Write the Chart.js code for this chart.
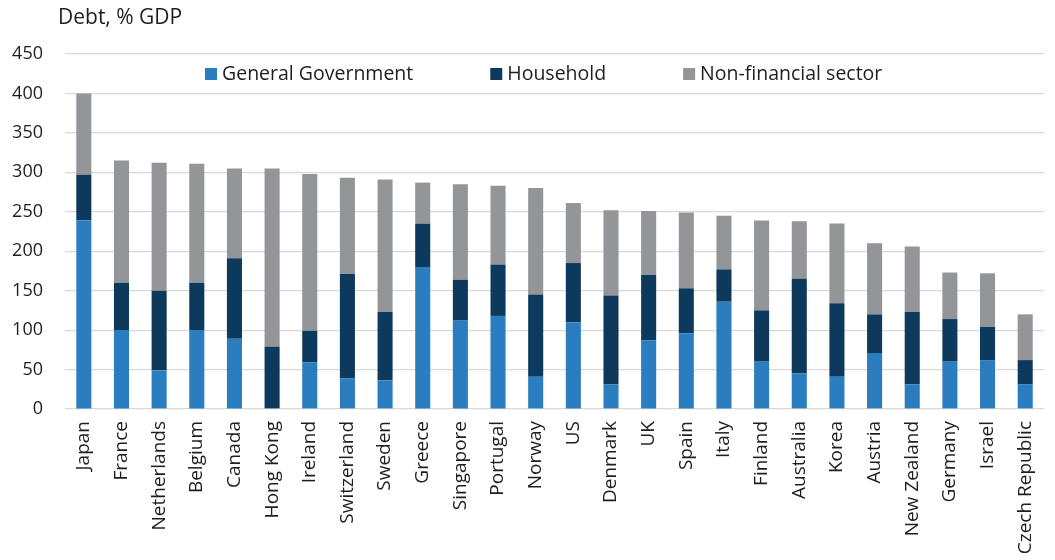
<!DOCTYPE html>
<html>
<head>
<meta charset="utf-8">
<script src="https://cdn.jsdelivr.net/npm/chart.js@4.4.1/dist/chart.umd.min.js"></script>
<style>
    html, body { margin: 0; padding: 0; background: #fff; overflow: hidden; }
    #wrap { position: relative; width: 1060px; height: 560px; }
</style>
</head>
<body>
<div id="wrap"><canvas id="debtChart"></canvas></div>
<script>
    // Countries, sorted by total debt
    const countries = ['Japan', 'France', 'Netherlands', 'Belgium', 'Canada', 'Hong Kong', 'Ireland', 'Switzerland',
        'Sweden', 'Greece', 'Singapore', 'Portugal', 'Norway', 'US', 'Denmark', 'UK', 'Spain', 'Italy', 'Finland',
        'Australia', 'Korea', 'Austria', 'New Zealand', 'Germany', 'Israel', 'Czech Republic'];

    // Debt by sector, % of GDP
    const generalGovernment = [239, 100, 49, 100, 89, 0, 59, 39, 36, 180, 112, 118, 41, 110, 31, 87, 96, 136, 60, 45, 41, 71, 31, 60, 62, 31];
    const household = [58, 60, 101, 60, 102, 79, 40, 132, 87, 55, 52, 65, 104, 75, 113, 83, 57, 41, 65, 120, 93, 49, 92, 54, 42, 31];
    const nonFinancial = [103, 155, 162, 151, 114, 226, 199, 122, 168, 52, 121, 100, 135, 76, 108, 81, 96, 68, 114, 73, 101, 90, 83, 59, 68, 58];

    const yTicks = [0, 50, 100, 150, 200, 250, 300, 350, 400, 450];

    const FONTE = '"Open Sans", "Noto Sans", sans-serif';
    const COR_TEXTO = '#1e1e1e';

    // Axis caption in the top left corner
    const tituloEixo = {
        id: 'tituloEixo',
        afterDraw(chart) {
            const ctx = chart.ctx;
            ctx.save();
            ctx.font = `21px ${FONTE}`;
            ctx.fillStyle = COR_TEXTO;
            ctx.textBaseline = 'middle';
            ctx.textAlign = 'left';
            ctx.fillText('Debt, % GDP', chart.chartArea.left - 7, 18);
            ctx.restore();
        }
    };

    // Legend row drawn inside the plot area
    const legendaInterna = {
        id: 'legendaInterna',
        afterDraw(chart) {
            const ctx = chart.ctx;
            const box = 12;
            const gap = 77;
            let x = chart.chartArea.left + 140;
            const y = chart.chartArea.top + 20;
            ctx.save();
            ctx.font = `19.5px ${FONTE}`;
            ctx.textBaseline = 'middle';
            ctx.textAlign = 'left';
            chart.data.datasets.forEach(ds => {
                ctx.fillStyle = ds.backgroundColor;
                ctx.fillRect(x, y - box / 2, box, box);
                x += box + 5;
                ctx.fillStyle = COR_TEXTO;
                ctx.fillText(ds.label, x, y);
                x += ctx.measureText(ds.label).width + gap;
            });
            ctx.restore();
        }
    };

    const ctx = document.getElementById('debtChart').getContext('2d');
    new Chart(ctx, {
        type: 'bar',
        data: {
            labels: countries,
            datasets: [
                { label: 'General Government', data: generalGovernment, backgroundColor: '#2a7ebf' },
                { label: 'Household', data: household, backgroundColor: '#0d3a5c' },
                { label: 'Non-financial sector', data: nonFinancial, backgroundColor: '#949599' }
            ]
        },
        options: {
            responsive: true,
            maintainAspectRatio: false,
            animation: false,
            layout: { padding: { top: 54, right: 0, bottom: 0, left: 0 } },
            datasets: { bar: { barPercentage: 0.4, categoryPercentage: 1.0 } },
            plugins: {
                legend: { display: false },
                tooltip: { enabled: false }
            },
            scales: {
                x: {
                    stacked: true,
                    grid: { display: false, drawTicks: false },
                    border: { display: false },
                    ticks: {
                        color: COR_TEXTO,
                        font: { family: FONTE, size: 19 },
                        minRotation: 90,
                        maxRotation: 90,
                        autoSkip: false,
                        padding: 12
                    },
                    afterFit(scale) { scale.height = 151; }
                },
                y: {
                    stacked: true,
                    min: 0,
                    max: 450,
                    afterBuildTicks(scale) { scale.ticks = yTicks.map(v => ({ value: v })); },
                    grid: { color: '#d9d9d9', lineWidth: 1.2, drawTicks: false },
                    border: { display: false },
                    ticks: {
                        color: COR_TEXTO,
                        font: { family: FONTE, size: 18 },
                        padding: 22
                    },
                    afterFit(scale) { scale.width = 65; }
                }
            }
        },
        plugins: [tituloEixo, legendaInterna]
    });
</script>
</body>
</html>
